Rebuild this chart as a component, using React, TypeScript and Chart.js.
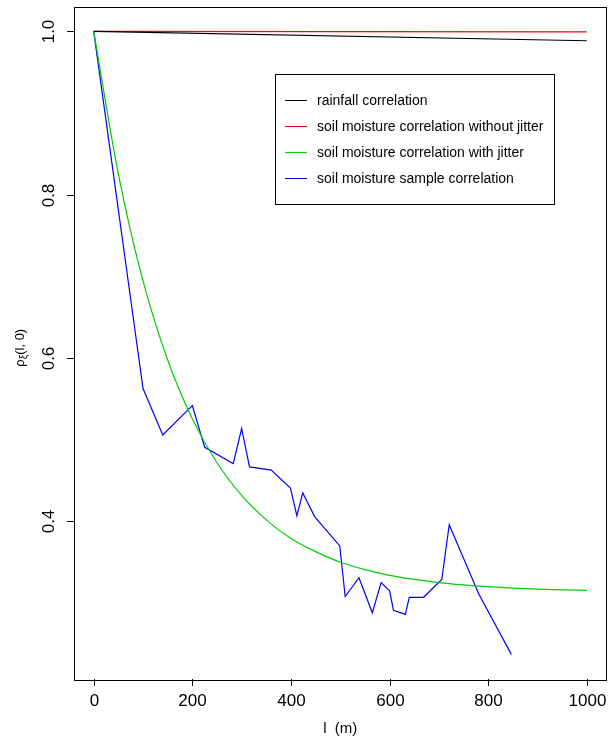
import React, { useEffect, useRef } from "react";
import { Chart, registerables } from "chart.js";

Chart.register(...registerables);

// Lag distances (m) and correlation values
const rainfallLag = [0, 1000];
const rainfallCorr = [1.0, 0.9886];

const noJitterLag = [0, 1000];
const noJitterCorr = [1.0, 0.9994];

const jitterLag = [0, 50, 100, 150, 200, 250, 300, 350, 400, 450, 500, 550, 600, 650, 700, 750, 800, 850, 900, 950, 1000];
const jitterCorr = [1.0, 0.825, 0.694, 0.597, 0.525, 0.471, 0.431, 0.401, 0.378, 0.362, 0.349, 0.34, 0.333, 0.328, 0.324, 0.3212, 0.319, 0.3173, 0.3161, 0.3152, 0.3146];

const sampleLag = [0, 100, 140, 200, 225, 283, 300, 316, 360, 399, 412, 424, 448, 499, 510, 538, 565, 583, 600, 608, 632, 640, 669, 706, 721, 781, 847];
const sampleCorr = [1.0, 0.562, 0.505, 0.541, 0.49, 0.47, 0.513, 0.466, 0.462, 0.44, 0.406, 0.434, 0.405, 0.369, 0.307, 0.33, 0.287, 0.324, 0.314, 0.29, 0.285, 0.306, 0.306, 0.328, 0.395, 0.31, 0.236];

const xTicks = [0, 200, 400, 600, 800, 1000];
const yTicks = [0.4, 0.6, 0.8, 1.0];

const legendLabels = [
  "rainfall correlation",
  "soil moisture correlation without jitter",
  "soil moisture correlation with jitter",
  "soil moisture sample correlation",
];
const seriesColors = ["#000000", "#ff0000", "#00cc00", "#0000ff"];

const FONT = '"Liberation Sans", Arial, Helvetica, sans-serif';

const toPoints = (xs: number[], ys: number[]) => xs.map((x, i) => ({ x, y: ys[i] }));

// Draws the R-style frame, axes, titles and boxed legend
const frameAndLegend = {
  id: "frameAndLegend",
  afterDraw(chart: any) {
    const { ctx, chartArea, scales } = chart;
    const { left, right, top, bottom } = chartArea;
    const xs = scales.x;
    const ys = scales.y;
    ctx.save();
    ctx.strokeStyle = "#000";
    ctx.fillStyle = "#000";
    ctx.lineWidth = 1;

    // plot frame
    ctx.strokeRect(Math.round(left) + 0.5, Math.round(top) + 0.5, Math.round(right - left) - 1, Math.round(bottom - top));

    // x axis ticks and labels
    ctx.font = `17px ${FONT}`;
    ctx.textAlign = "center";
    ctx.textBaseline = "middle";
    xTicks.forEach((v) => {
      const px = Math.round(xs.getPixelForValue(v)) + 0.5;
      ctx.beginPath();
      ctx.moveTo(px, Math.round(bottom));
      ctx.lineTo(px, Math.round(bottom) + 7);
      ctx.stroke();
      ctx.fillText(String(v), px, bottom + 22);
    });

    // y axis ticks and rotated labels
    yTicks.forEach((v) => {
      const py = Math.round(ys.getPixelForValue(v)) + 0.5;
      ctx.beginPath();
      ctx.moveTo(Math.round(left) - 7, py);
      ctx.lineTo(Math.round(left), py);
      ctx.stroke();
      ctx.save();
      ctx.translate(left - 25, py);
      ctx.rotate(-Math.PI / 2);
      ctx.fillText(v.toFixed(1), 0, 0);
      ctx.restore();
    });

    // x axis title
    ctx.font = `15px ${FONT}`;
    ctx.fillText("l  (m)", (left + right) / 2, 729);

    // y axis title: rho with subscript xi
    ctx.save();
    ctx.translate(20, (top + bottom) / 2 + 5);
    ctx.rotate(-Math.PI / 2);
    ctx.textAlign = "left";
    ctx.textBaseline = "alphabetic";
    const mainFont = `13px ${FONT}`;
    const subFont = `10px ${FONT}`;
    ctx.font = mainFont;
    const wRho = ctx.measureText("ρ").width;
    const wRest = ctx.measureText("(l, 0)").width;
    ctx.font = subFont;
    const wSub = ctx.measureText("ξ").width;
    const total = wRho + wSub + wRest;
    let cx = -total / 2;
    ctx.font = mainFont;
    ctx.fillText("ρ", cx, 4);
    cx += wRho;
    ctx.font = subFont;
    ctx.fillText("ξ", cx, 7);
    cx += wSub;
    ctx.font = mainFont;
    ctx.fillText("(l, 0)", cx, 4);
    ctx.restore();

    // legend
    ctx.strokeRect(275.5, 74.5, 279, 130);
    ctx.font = `14px ${FONT}`;
    ctx.textAlign = "left";
    ctx.textBaseline = "middle";
    const rows = [100.5, 126.5, 152.5, 178.5];
    legendLabels.forEach((label, i) => {
      ctx.strokeStyle = seriesColors[i];
      ctx.beginPath();
      ctx.moveTo(285, rows[i]);
      ctx.lineTo(307, rows[i]);
      ctx.stroke();
      ctx.fillStyle = "#000";
      ctx.fillText(label, 317, rows[i] + 0.5);
    });
    ctx.restore();
  },
};

export default function App() {
  const canvasRef = useRef<HTMLCanvasElement | null>(null);

  useEffect(() => {
    if (!canvasRef.current) return;
    const chart = new Chart(canvasRef.current, {
      type: "line",
      data: {
        datasets: [
          {
            label: legendLabels[0],
            data: toPoints(rainfallLag, rainfallCorr),
            borderColor: seriesColors[0],
            borderWidth: 1.2,
            pointRadius: 0,
            tension: 0,
          },
          {
            label: legendLabels[1],
            data: toPoints(noJitterLag, noJitterCorr),
            borderColor: seriesColors[1],
            borderWidth: 1.2,
            pointRadius: 0,
            tension: 0,
          },
          {
            label: legendLabels[2],
            data: toPoints(jitterLag, jitterCorr),
            borderColor: seriesColors[2],
            borderWidth: 1.2,
            pointRadius: 0,
            cubicInterpolationMode: "monotone",
          },
          {
            label: legendLabels[3],
            data: toPoints(sampleLag, sampleCorr),
            borderColor: seriesColors[3],
            borderWidth: 1.2,
            pointRadius: 0,
            tension: 0,
          },
        ],
      },
      options: {
        responsive: false,
        animation: false,
        devicePixelRatio: 1,
        layout: { padding: { left: 74, right: 1.5, top: 6.5, bottom: 59 } },
        plugins: { legend: { display: false }, tooltip: { enabled: false } },
        scales: {
          x: { type: "linear", min: -40, max: 1040, display: false },
          y: { type: "linear", min: 0.2058, max: 1.0306, display: false },
        },
      },
      plugins: [frameAndLegend],
    } as any);
    return () => chart.destroy();
  }, []);

  return (
    <div style={{ position: "absolute", left: 0, top: 0, width: 608, height: 738, background: "#fff" }}>
      <canvas ref={canvasRef} width={608} height={738} style={{ display: "block" }} />
    </div>
  );
}
